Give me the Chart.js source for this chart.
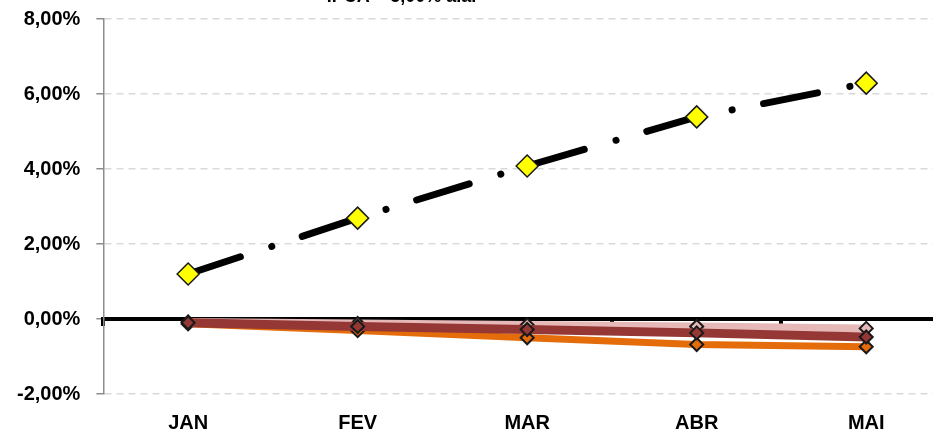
<!DOCTYPE html>
<html lang="pt">
<head>
<meta charset="UTF-8">
<title>IPCA</title>
<style>
  html, body { margin: 0; padding: 0; overflow: hidden; background: #fff; }
  #wrap { width: 955px; height: 439px; position: relative; }
</style>
</head>
<body>
<div id="wrap"><canvas id="chart"></canvas></div>
<script src="https://cdn.jsdelivr.net/npm/chart.js"></script>
<script>
const meses = ['JAN', 'FEV', 'MAR', 'ABR', 'MAI'];
const metaIpca = [1.20, 2.69, 4.08, 5.39, 6.29];
const serieRosa = [-0.08, -0.12, -0.16, -0.20, -0.25];
const serieVinho = [-0.10, -0.20, -0.28, -0.37, -0.48];
const serieLaranja = [-0.13, -0.31, -0.50, -0.68, -0.74];
const tituloTopo = 'IPCA = 5,00% a.a.';

const fonte = 'Liberation Sans';

// texto do topo, cortado pela borda como no original
const textoTopo = {
  id: 'textoTopo',
  afterDraw(chart) {
    const ctx = chart.ctx;
    ctx.save();
    ctx.font = 'bold 18px "' + fonte + '"';
    ctx.fillStyle = '#000';
    ctx.textAlign = 'right';
    ctx.textBaseline = 'alphabetic';
    ctx.fillText(tituloTopo, chart.chartArea.left + 373, 2);
    ctx.restore();
  }
};

function pct(v) {
  return v.toFixed(2).replace('.', ',') + '%';
}

new Chart(document.getElementById('chart'), {
  type: 'line',
  data: {
    labels: meses,
    datasets: [
      {
        data: metaIpca,
        order: 0,
        borderColor: '#000',
        borderWidth: 7,
        borderDash: [55, 33, 0.1, 32],
        borderCapStyle: 'round',
        pointStyle: 'rectRot',
        pointRadius: 11,
        pointBackgroundColor: '#ffff00',
        pointBorderColor: '#1a1a1a',
        pointBorderWidth: 1.5,
        tension: 0
      },
      {
        data: serieVinho,
        order: 1,
        borderColor: '#953735',
        borderWidth: 9,
        pointStyle: 'rectRot',
        pointRadius: 6.5,
        pointBackgroundColor: '#953735',
        pointBorderColor: '#1a1a1a',
        pointBorderWidth: 2,
        tension: 0
      },
      {
        data: serieLaranja,
        order: 2,
        borderColor: '#e46c0a',
        borderWidth: 7,
        pointStyle: 'rectRot',
        pointRadius: 6.5,
        pointBackgroundColor: '#e46c0a',
        pointBorderColor: '#1a1a1a',
        pointBorderWidth: 2,
        tension: 0
      },
      {
        data: serieRosa,
        order: 3,
        borderColor: '#e6b9b8',
        borderWidth: 8,
        pointStyle: 'rectRot',
        pointRadius: 6.5,
        pointBackgroundColor: '#e6b9b8',
        pointBorderColor: '#1a1a1a',
        pointBorderWidth: 2,
        tension: 0
      }
    ]
  },
  options: {
    responsive: true,
    maintainAspectRatio: false,
    animation: false,
    layout: { autoPadding: false, padding: { top: 19, left: 1, right: 4, bottom: 4 } },
    plugins: {
      legend: { display: false },
      tooltip: { enabled: false }
    },
    scales: {
      x: {
        offset: true,
        grid: { display: false, drawTicks: false },
        border: { display: false },
        ticks: {
          padding: 17,
          color: '#000',
          font: { family: fonte, size: 20, weight: 'bold' }
        },
        // o chart.js conta o padding duas vezes na altura
        afterFit: s => { s.height = 41; }
      },
      x0: {
        type: 'category',
        position: { y: 0 },
        offset: true,
        grid: {
          offset: true,
          drawOnChartArea: false,
          color: '#000',
          lineWidth: 4,
          tickLength: 5
        },
        border: { color: '#000', width: 4 },
        ticks: { display: false },
        afterFit: s => { s.height = 0; }
      },
      y: {
        min: -2,
        max: 8,
        ticks: {
          stepSize: 2,
          padding: 16,
          color: '#000',
          font: { family: fonte, size: 20, weight: 'bold' },
          callback: v => pct(v)
        },
        grid: {
          color: '#d9d9d9',
          lineWidth: 1.5,
          tickLength: 7,
          tickColor: '#8c8c8c',
          tickBorderDash: [],
          tickWidth: 1.5
        },
        // em v4 o dash do border vale para as linhas de grade
        border: { color: '#8c8c8c', width: 1.5, dash: [7, 5] },
        afterFit: s => { s.paddingTop = 0; s.paddingBottom = 0; }
      }
    }
  },
  plugins: [textoTopo]
});
</script>
</body>
</html>
